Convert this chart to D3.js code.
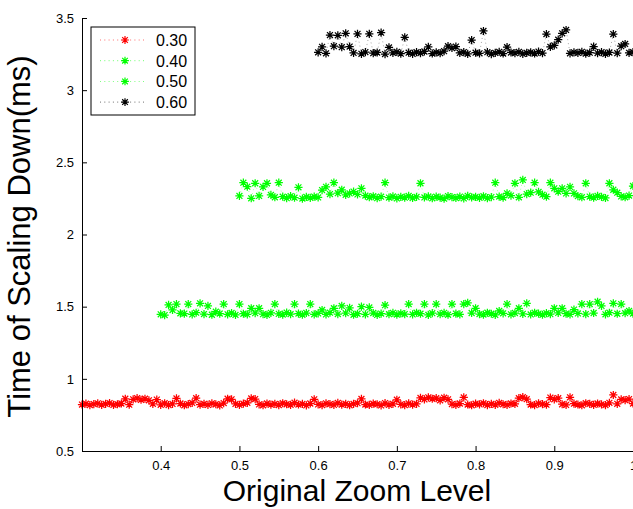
<!DOCTYPE html>
<html>
<head>
<meta charset="utf-8">
<script src="https://cdnjs.cloudflare.com/ajax/libs/d3/7.8.5/d3.min.js"></script>
<style>
  body { margin: 0; background: #fff; }
  text { font-family: "Liberation Sans", Arial, sans-serif; }
</style>
</head>
<body>
<div id="chart"></div>
<script>

// legend labels + colours of the four series
var seriesNames = ["0.30", "0.40", "0.50", "0.60"];
var seriesColors = ["#ff0000", "#00ff00", "#00ff00", "#000000"];

// first zoom level of each series, and the step between zoom levels
var seriesStart = [0.30, 0.40, 0.50, 0.60];
var zoomStep = 0.005;

var xTicks = [0.4, 0.5, 0.6, 0.7, 0.8, 0.9, 1];
var yTicks = [0.5, 1, 1.5, 2, 2.5, 3, 3.5];

// time (ms), one value per zoom level
var time030 = [
	0.822, 0.828, 0.818, 0.825, 0.830, 0.820, 0.826, 0.832, 0.819, 0.824,
	0.829, 0.862, 0.821, 0.858, 0.866, 0.855, 0.862, 0.851, 0.827, 0.856,
	0.820, 0.831, 0.818, 0.826, 0.864, 0.829, 0.817, 0.825, 0.833, 0.866,
	0.821, 0.827, 0.819, 0.830, 0.824, 0.816, 0.832, 0.862, 0.858, 0.826,
	0.819, 0.828, 0.834, 0.864, 0.860, 0.823, 0.817, 0.829, 0.821, 0.826,
	0.818, 0.831, 0.824, 0.820, 0.835, 0.822, 0.827, 0.816, 0.829, 0.858,
	0.823, 0.818, 0.830, 0.825, 0.819, 0.833, 0.821, 0.827, 0.817, 0.826,
	0.831, 0.861, 0.822, 0.819, 0.828, 0.824, 0.816, 0.832, 0.820, 0.827,
	0.855, 0.823, 0.818, 0.830, 0.821, 0.826, 0.868, 0.857, 0.872, 0.862,
	0.866, 0.851, 0.869, 0.858, 0.825, 0.819, 0.829, 0.871, 0.822, 0.817,
	0.828, 0.823, 0.831, 0.818, 0.826, 0.820, 0.833, 0.824, 0.819, 0.829,
	0.827, 0.866, 0.873, 0.859, 0.822, 0.818, 0.830, 0.825, 0.821, 0.870,
	0.858, 0.866, 0.824, 0.819, 0.872, 0.828, 0.822, 0.817, 0.831, 0.826,
	0.820, 0.829, 0.823, 0.818, 0.834, 0.888, 0.827, 0.857, 0.852, 0.860,
	0.829
];

var time040 = [
	1.447, 1.442, 1.512, 1.477, 1.518, 1.454, 1.452, 1.518, 1.446, 1.458,
	1.523, 1.449, 1.505, 1.444, 1.465, 1.452, 1.518, 1.447, 1.456, 1.443,
	1.518, 1.451, 1.446, 1.489, 1.455, 1.489, 1.448, 1.443, 1.457, 1.518,
	1.450, 1.445, 1.459, 1.448, 1.518, 1.452, 1.444, 1.456, 1.518, 1.447,
	1.453, 1.477, 1.446, 1.458, 1.489, 1.449, 1.505, 1.455, 1.492, 1.444,
	1.451, 1.500, 1.447, 1.495, 1.456, 1.443, 1.452, 1.510, 1.448, 1.457,
	1.445, 1.454, 1.449, 1.518, 1.446, 1.458, 1.451, 1.518, 1.443, 1.455,
	1.518, 1.448, 1.457, 1.444, 1.518, 1.452, 1.447, 1.518, 1.527, 1.456,
	1.489, 1.449, 1.445, 1.458, 1.451, 1.443, 1.470, 1.454, 1.518, 1.447,
	1.456, 1.489, 1.450, 1.523, 1.446, 1.458, 1.452, 1.444, 1.455, 1.448,
	1.489, 1.457, 1.489, 1.451, 1.446, 1.480, 1.453, 1.518, 1.449, 1.518,
	1.456, 1.534, 1.505, 1.447, 1.458, 1.523, 1.451, 1.518, 1.455, 1.470,
	1.452
];

var time050 = [
	2.267, 2.359, 2.331, 2.251, 2.355, 2.267, 2.330, 2.355, 2.274, 2.258,
	2.359, 2.262, 2.252, 2.266, 2.255, 2.327, 2.249, 2.260, 2.254, 2.263,
	2.257, 2.308, 2.330, 2.280, 2.359, 2.286, 2.310, 2.275, 2.285, 2.297,
	2.278, 2.320, 2.270, 2.258, 2.265, 2.252, 2.262, 2.359, 2.256, 2.264,
	2.250, 2.261, 2.255, 2.267, 2.253, 2.260, 2.355, 2.257, 2.264, 2.251,
	2.262, 2.256, 2.248, 2.266, 2.259, 2.253, 2.263, 2.250, 2.268, 2.257,
	2.261, 2.254, 2.265, 2.252, 2.259, 2.359, 2.263, 2.256, 2.285, 2.270,
	2.355, 2.258, 2.378, 2.280, 2.290, 2.359, 2.295, 2.276, 2.262, 2.359,
	2.320, 2.297, 2.320, 2.285, 2.330, 2.285, 2.266, 2.258, 2.355, 2.263,
	2.255, 2.268, 2.260, 2.253, 2.355, 2.310, 2.290, 2.264, 2.258, 2.270,
	2.336
];

var time060 = [
	3.262, 3.300, 3.255, 3.382, 3.305, 3.380, 3.298, 3.394, 3.302, 3.258,
	3.390, 3.252, 3.264, 3.390, 3.256, 3.261, 3.398, 3.250, 3.296, 3.259,
	3.265, 3.253, 3.366, 3.260, 3.251, 3.263, 3.257, 3.268, 3.300, 3.254,
	3.262, 3.256, 3.270, 3.305, 3.292, 3.302, 3.258, 3.264, 3.252, 3.347,
	3.260, 3.255, 3.410, 3.263, 3.250, 3.258, 3.266, 3.254, 3.298, 3.261,
	3.256, 3.265, 3.251, 3.259, 3.262, 3.254, 3.267, 3.257, 3.389, 3.300,
	3.310, 3.350, 3.394, 3.417, 3.255, 3.262, 3.258, 3.266, 3.253, 3.260,
	3.302, 3.257, 3.264, 3.252, 3.261, 3.389, 3.256, 3.305, 3.320, 3.259,
	3.263
];

function load() {

	var margin = { top: 18, right: 0, bottom: 58, left: 82 },
		width = 633 - margin.left - margin.right,
		height = 509 - margin.top - margin.bottom;

	var svg = d3.select("#chart")
		.append("svg")
		.attr("width", 633)
		.attr("height", 509)
	  .append("g")
		.attr("transform", "translate(" + margin.left + "," + margin.top + ")");

	var x = d3.scaleLinear().domain([0.3, 1]).range([0, width]);
	var y = d3.scaleLinear().domain([0.5, 3.5]).range([height, 0]);

	// pair each value with its zoom level
	var allTimes = [time030, time040, time050, time060];
	var series = allTimes.map(function(vals, s) {
		return vals.map(function(v, i) {
			return { zoom: seriesStart[s] + i * zoomStep, time: v };
		});
	});

	// asterisk marker like matlab's '*'
	function star(r) {
		var d = r * 0.72;
		return "M" + (-r) + ",0H" + r + "M0," + (-r) + "V" + r +
			"M" + (-d) + "," + (-d) + "L" + d + "," + d +
			"M" + (-d) + "," + d + "L" + d + "," + (-d);
	}

	var line = d3.line()
		.x(function(d) { return x(d.zoom); })
		.y(function(d) { return y(d.time); });

	var plot = svg.append("g");

	series.forEach(function(data, s) {
		plot.append("path")
			.datum(data)
			.attr("d", line)
			.attr("fill", "none")
			.attr("stroke", seriesColors[s])
			.attr("stroke-width", 0.6)
			.attr("stroke-dasharray", "1,3")
			.attr("opacity", 0.6);

		plot.selectAll(".m" + s)
			.data(data)
		  .enter().append("path")
			.attr("class", "m" + s)
			.attr("transform", function(d) { return "translate(" + x(d.zoom) + "," + y(d.time) + ")"; })
			.attr("d", star(4.1))
			.attr("fill", "none")
			.attr("stroke", seriesColors[s])
			.attr("stroke-width", 1.25);
	});

	// axes, ticks inside like matlab
	var xAxis = svg.append("g")
		.attr("transform", "translate(0," + height + ")")
		.call(d3.axisBottom(x).tickValues(xTicks).tickSizeInner(-5).tickSizeOuter(0)
			.tickPadding(10).tickFormat(d3.format("")));
	var yAxis = svg.append("g")
		.call(d3.axisLeft(y).tickValues(yTicks).tickSizeInner(-5).tickSizeOuter(0)
			.tickPadding(8).tickFormat(d3.format("")));

	[xAxis, yAxis].forEach(function(a) {
		a.select(".domain").attr("stroke", "#000").attr("stroke-width", 1);
		a.selectAll(".tick line").attr("stroke", "#000");
		a.selectAll("text").attr("fill", "#000")
			.style("font-size", "13px")
			.style("font-family", "Liberation Sans, Arial, sans-serif");
	});

	// axis titles
	svg.append("text")
		.attr("x", 275)
		.attr("y", height + 50)
		.attr("text-anchor", "middle")
		.style("font-size", "30px")
		.text("Original Zoom Level");

	svg.append("text")
		.attr("transform", "translate(-52," + (height / 2 + 2) + ") rotate(-90)")
		.attr("text-anchor", "middle")
		.style("font-size", "31px")
		.text("Time of Scaling Down(ms)");

	// legend
	var legend = svg.append("g").attr("transform", "translate(9,9)");
	legend.append("rect")
		.attr("width", 104)
		.attr("height", 88)
		.attr("fill", "#fff")
		.attr("stroke", "#000");

	seriesNames.forEach(function(name, s) {
		var ly = 13 + s * 20.7;
		legend.append("line")
			.attr("x1", 9).attr("x2", 56)
			.attr("y1", ly).attr("y2", ly)
			.attr("stroke", seriesColors[s])
			.attr("stroke-width", 0.8)
			.attr("stroke-dasharray", "1,3.3")
			.attr("opacity", 0.7);
		legend.append("path")
			.attr("transform", "translate(34," + ly + ")")
			.attr("d", star(3.9))
			.attr("fill", "none")
			.attr("stroke", seriesColors[s])
			.attr("stroke-width", 1.2);
		legend.append("text")
			.attr("x", 65)
			.attr("y", ly + 6)
			.style("font-size", "16px")
			.text(name);
	});
}

load();
</script>
</body>
</html>
